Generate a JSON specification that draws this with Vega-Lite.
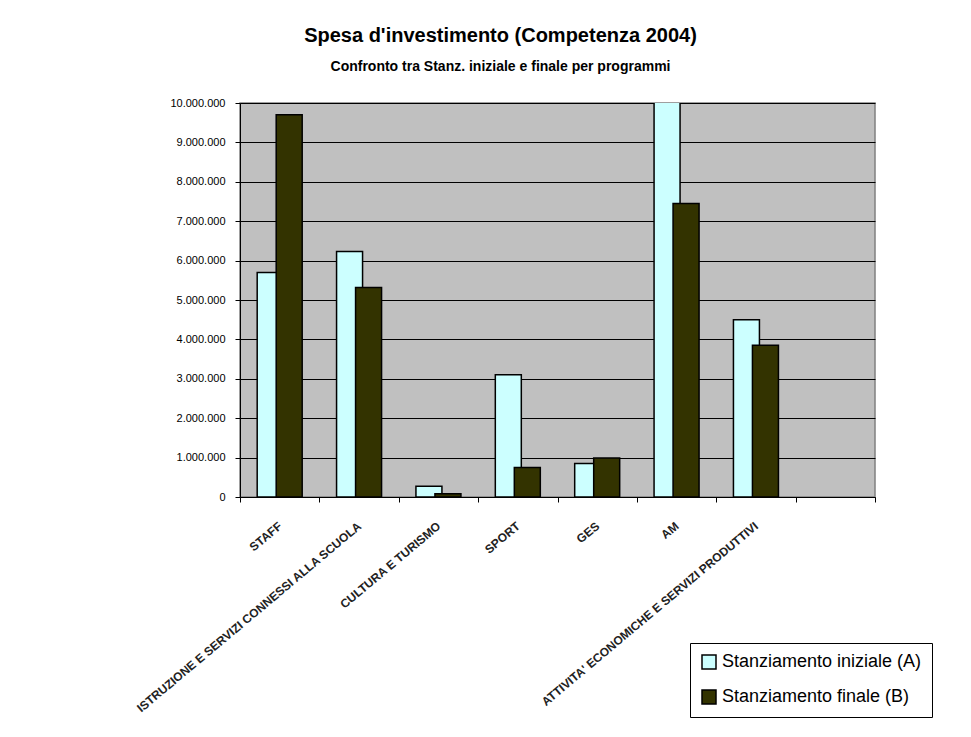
{
  "$schema": "https://vega.github.io/schema/vega-lite/v6.json",
  "width": 635,
  "height": 394,
  "autosize": "none",
  "padding": {"left": 240, "top": 103, "right": 96, "bottom": 240},
  "background": "white",
  "title": {
    "text": "Spesa d'investimento (Competenza 2004)",
    "subtitle": "Confronto tra Stanz. iniziale e finale per programmi",
    "anchor": "middle",
    "dx": -57,
    "offset": 23,
    "font": "Liberation Sans",
    "fontSize": 20,
    "fontWeight": "bold",
    "color": "black",
    "subtitleFont": "Liberation Sans",
    "subtitleFontSize": 14,
    "subtitleFontWeight": "bold",
    "subtitleColor": "black",
    "subtitlePadding": 14
  },
  "data": {
    "values": [
      {"programma": "STAFF", "serie": "Stanziamento iniziale (A)", "valore": 5700000},
      {"programma": "STAFF", "serie": "Stanziamento finale (B)", "valore": 9700000},
      {"programma": "ISTRUZIONE E SERVIZI CONNESSI ALLA SCUOLA", "serie": "Stanziamento iniziale (A)", "valore": 6230000},
      {"programma": "ISTRUZIONE E SERVIZI CONNESSI ALLA SCUOLA", "serie": "Stanziamento finale (B)", "valore": 5320000},
      {"programma": "CULTURA E TURISMO", "serie": "Stanziamento iniziale (A)", "valore": 270000},
      {"programma": "CULTURA E TURISMO", "serie": "Stanziamento finale (B)", "valore": 80000},
      {"programma": "SPORT", "serie": "Stanziamento iniziale (A)", "valore": 3100000},
      {"programma": "SPORT", "serie": "Stanziamento finale (B)", "valore": 750000},
      {"programma": "GES", "serie": "Stanziamento iniziale (A)", "valore": 850000},
      {"programma": "GES", "serie": "Stanziamento finale (B)", "valore": 990000},
      {"programma": "AM", "serie": "Stanziamento iniziale (A)", "valore": 10500000},
      {"programma": "AM", "serie": "Stanziamento finale (B)", "valore": 7450000},
      {"programma": "ATTIVITA' ECONOMICHE E SERVIZI PRODUTTIVI", "serie": "Stanziamento iniziale (A)", "valore": 4500000},
      {"programma": "ATTIVITA' ECONOMICHE E SERVIZI PRODUTTIVI", "serie": "Stanziamento finale (B)", "valore": 3850000}
    ]
  },
  "encoding": {
    "x": {
      "field": "programma",
      "type": "nominal",
      "sort": null,
      "scale": {
        "domain": ["STAFF", "ISTRUZIONE E SERVIZI CONNESSI ALLA SCUOLA", "CULTURA E TURISMO", "SPORT", "GES", "AM", "ATTIVITA' ECONOMICHE E SERVIZI PRODUTTIVI", " "],
        "paddingInner": 0,
        "paddingOuter": 0
      },
      "axis": {
        "title": null,
        "labelAngle": -40,
        "labelAlign": "right",
        "labelBaseline": "middle",
        "labelPadding": 22,
        "labelFont": "Liberation Sans",
        "labelFontSize": 12,
        "labelFontWeight": "bold",
        "labelColor": "#222222",
        "labelLimit": 500,
        "labelOverlap": false,
        "tickBand": "extent",
        "tickSize": 5,
        "tickColor": "black",
        "domainColor": "black",
        "domainWidth": 1,
        "grid": false
      }
    },
    "y": {
      "field": "valore",
      "type": "quantitative",
      "scale": {"domain": [0, 10000000], "nice": false},
      "axis": {
        "title": null,
        "values": [0, 1000000, 2000000, 3000000, 4000000, 5000000, 6000000, 7000000, 8000000, 9000000, 10000000],
        "format": ",d",
        "labelFont": "Liberation Sans",
        "labelFontSize": 11,
        "labelColor": "black",
        "labelPadding": 10,
        "tickSize": 5,
        "tickColor": "black",
        "domainColor": "black",
        "grid": true,
        "gridColor": "black",
        "gridOpacity": 1,
        "gridWidth": 1
      }
    },
    "color": {
      "field": "serie",
      "type": "nominal",
      "scale": {
        "domain": ["Stanziamento iniziale (A)", "Stanziamento finale (B)"],
        "range": ["#CCFFFF", "#333300"]
      },
      "legend": {
        "title": null,
        "orient": "none",
        "legendX": 450,
        "legendY": 540,
        "fillColor": "white",
        "strokeColor": "black",
        "padding": 10,
        "symbolType": "square",
        "symbolSize": 196,
        "symbolStrokeColor": "black",
        "symbolStrokeWidth": 1.5,
        "symbolOpacity": 1,
        "labelFont": "Liberation Sans",
        "labelFontSize": 18,
        "labelColor": "black",
        "labelOffset": 4,
        "rowPadding": 15,
        "labelLimit": 400
      }
    }
  },
  "layer": [
    {
      "transform": [{"filter": "datum.serie === 'Stanziamento iniziale (A)'"}],
      "mark": {"type": "bar", "width": 26, "xOffset": -9.5, "stroke": "black", "strokeWidth": 1.5, "clip": true, "opacity": 1}
    },
    {
      "transform": [{"filter": "datum.serie === 'Stanziamento finale (B)'"}],
      "mark": {"type": "bar", "width": 26, "xOffset": 9.5, "stroke": "black", "strokeWidth": 1.5, "clip": true, "opacity": 1}
    }
  ],
  "config": {
    "locale": {
      "number": {"decimal": ",", "thousands": ".", "grouping": [3], "currency": ["", " €"]}
    },
    "view": {"fill": "#C0C0C0", "stroke": "#808080", "strokeWidth": 1.5},
    "font": "Liberation Sans"
  }
}
